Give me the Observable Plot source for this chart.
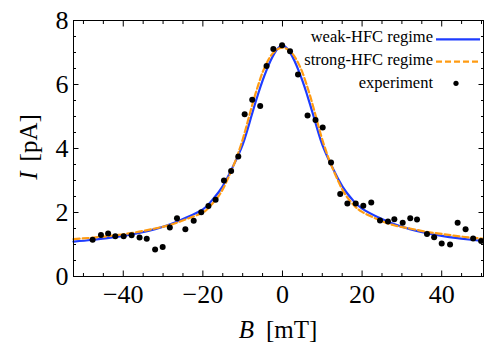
<!DOCTYPE html>
<html>
<head>
<meta charset="utf-8">
<script src="https://cdn.jsdelivr.net/npm/d3@7"></script>
<script src="https://cdn.jsdelivr.net/npm/@observablehq/plot@0.6"></script>
<style>
  html, body { margin: 0; padding: 0; background: white; }
  #chart { position: relative; width: 484px; height: 347px; }
  #chart svg, #chart svg text { font-family: "Liberation Serif", serif !important; }
</style>
</head>
<body>
<div id="chart"></div>
<script>
// Experimental points
const expB = [-47.7,-45.6,-43.8,-42.0,-39.9,-37.9,-35.9,-34.1,-32.0,-30.1,-28.3,-26.5,-24.4,-22.3,-20.4,-18.6,-16.8,-14.7,-12.9,-11.1,-9.5,-7.6,-5.6,-4.0,-2.3,-0.1,1.9,3.9,6.3,8.3,10.1,12.2,14.5,16.3,18.4,20.3,22.3,24.5,26.5,28.1,30.2,32.1,33.8,36.3,38.1,40.0,42.1,44.0,46.0,47.9,49.9];
const expI = [1.15,1.30,1.34,1.26,1.26,1.29,1.22,1.18,0.84,0.92,1.53,1.82,1.48,1.74,2.01,2.20,2.40,3.00,3.30,3.75,5.07,5.52,5.33,6.58,7.11,7.23,7.04,6.31,5.03,4.89,4.66,3.56,2.58,2.28,2.28,2.21,2.31,1.75,1.72,1.79,1.68,1.82,1.78,1.33,1.23,1.03,1.00,1.68,1.48,1.19,1.11];

// Model curves
const curveB = [-52.5,-48,-44,-40,-36,-32,-28,-24,-20,-18,-16,-14,-12,-11,-10,-9,-8,-7,-6,-5,-4,-3,-2,-1,0,1,2,3,4,5,6,7,8,9,10,11,12,14,16,18,20,24,28,32,36,40,44,48,50.5];
const weakI = [1.09,1.14,1.20,1.27,1.36,1.48,1.64,1.85,2.10,2.34,2.64,3.05,3.55,3.82,4.12,4.50,4.93,5.35,5.75,6.12,6.45,6.74,6.98,7.15,7.22,
               7.15,6.98,6.74,6.45,6.12,5.75,5.35,4.93,4.50,4.12,3.82,3.55,3.05,2.64,2.34,2.12,1.85,1.64,1.48,1.36,1.27,1.20,1.14,1.10];
const strongI = [1.17,1.21,1.26,1.32,1.40,1.50,1.62,1.80,2.00,2.22,2.52,2.98,3.56,3.90,4.28,4.72,5.18,5.62,6.02,6.38,6.66,6.88,7.03,7.12,7.15,
                 7.12,7.03,6.88,6.66,6.38,6.02,5.62,5.18,4.72,4.28,3.90,3.56,2.98,2.52,2.22,2.02,1.78,1.60,1.50,1.40,1.33,1.26,1.21,1.18];

// Ticks
const xMajor = [-40,-20,0,20,40];
const xMinor = [-50,-45,-35,-30,-25,-15,-10,-5,5,10,15,25,30,35,45,50];
const yMajor = [0,2,4,6,8];
const yMinor = [0.5,1,1.5,2.5,3,3.5,4.5,5,5.5,6.5,7,7.5];

const seriesNames = ["weak-HFC regime", "strong-HFC regime", "experiment"];
const blue = "#1e3cff";
const orange = "#ff9b12";

const expData = expB.map((b, i) => ({B: b, I: expI[i]}));
const weakData = curveB.map((b, i) => ({B: b, I: weakI[i]}));
const strongData = curveB.map((b, i) => ({B: b, I: strongI[i]}));

const font = "Liberation Serif";

const chart = Plot.plot({
  width: 484,
  height: 347,
  marginLeft: 73,
  marginRight: 1,
  marginTop: 20,
  marginBottom: 71,
  x: {domain: [-52.5, 50.5]},
  y: {domain: [0, 8]},
  style: {fontFamily: font, background: "white", overflow: "visible", color: "black"},
  marks: [
    Plot.line(weakData, {x: "B", y: "I", stroke: blue, strokeWidth: 2.2, curve: "natural"}),
    Plot.line(strongData, {x: "B", y: "I", stroke: orange, strokeWidth: 2.2, strokeDasharray: "6,3", curve: "natural"}),
    Plot.dot(expData, {x: "B", y: "I", r: 3, fill: "black"}),
    Plot.frame({stroke: "black", strokeWidth: 1}),
    // inward ticks, bottom & top
    Plot.axisX({anchor: "bottom", ticks: xMajor, tickSize: -5.5, tickFormat: () => "", label: null}),
    Plot.axisX({anchor: "bottom", ticks: xMinor, tickSize: -3, tickFormat: () => "", label: null}),
    Plot.axisX({anchor: "top", ticks: xMajor, tickSize: -5.5, tickFormat: () => "", label: null}),
    Plot.axisX({anchor: "top", ticks: xMinor, tickSize: -3, tickFormat: () => "", label: null}),
    // inward ticks, left & right
    Plot.axisY({anchor: "left", ticks: yMajor, tickSize: -5.5, tickFormat: () => "", label: null}),
    Plot.axisY({anchor: "left", ticks: yMinor, tickSize: -3, tickFormat: () => "", label: null}),
    Plot.axisY({anchor: "right", ticks: yMajor, tickSize: -5.5, tickFormat: () => "", label: null}),
    Plot.axisY({anchor: "right", ticks: yMinor, tickSize: -3, tickFormat: () => "", label: null}),
    // labels
    Plot.axisX({anchor: "bottom", ticks: xMajor, tickSize: 0, tickPadding: 8, fontSize: 26, fontFamily: font, label: null}),
    Plot.axisY({anchor: "left", ticks: yMajor, tickSize: 0, tickPadding: 5, fontSize: 26, fontFamily: font, label: null})
  ]
});

document.getElementById("chart").appendChild(chart);

const svg = d3.select(chart);

// Axis titles
const xt = svg.append("text")
  .attr("x", 278).attr("y", 338)
  .attr("text-anchor", "middle")
  .attr("font-family", font).attr("font-size", 25).attr("fill", "black");
xt.append("tspan").attr("font-style", "italic").text("B");
xt.append("tspan").attr("dx", 12).text("[mT]");

const yt = svg.append("text")
  .attr("transform", "translate(37,147) rotate(-90)")
  .attr("text-anchor", "middle")
  .attr("font-family", font).attr("font-size", 25).attr("fill", "black");
yt.append("tspan").attr("font-style", "italic").text("I");
yt.append("tspan").attr("dx", 10).text("[pA]");

// Legend
const leg = svg.append("g").attr("font-family", font).attr("font-size", 16.5).attr("fill", "black");
const rows = [42.3, 64.8, 87.5];
seriesNames.forEach((name, i) => {
  leg.append("text").attr("x", 433).attr("y", rows[i]).attr("text-anchor", "end").text(name);
});
leg.append("line").attr("x1", 436).attr("x2", 480).attr("y1", 39.3).attr("y2", 39.3)
  .attr("stroke", blue).attr("stroke-width", 2.2);
leg.append("line").attr("x1", 436).attr("x2", 480).attr("y1", 61.7).attr("y2", 61.7)
  .attr("stroke", orange).attr("stroke-width", 2.2).attr("stroke-dasharray", "6,3");
leg.append("circle").attr("cx", 456).attr("cy", 83.3).attr("r", 2.6).attr("fill", "black");
</script>
</body>
</html>
